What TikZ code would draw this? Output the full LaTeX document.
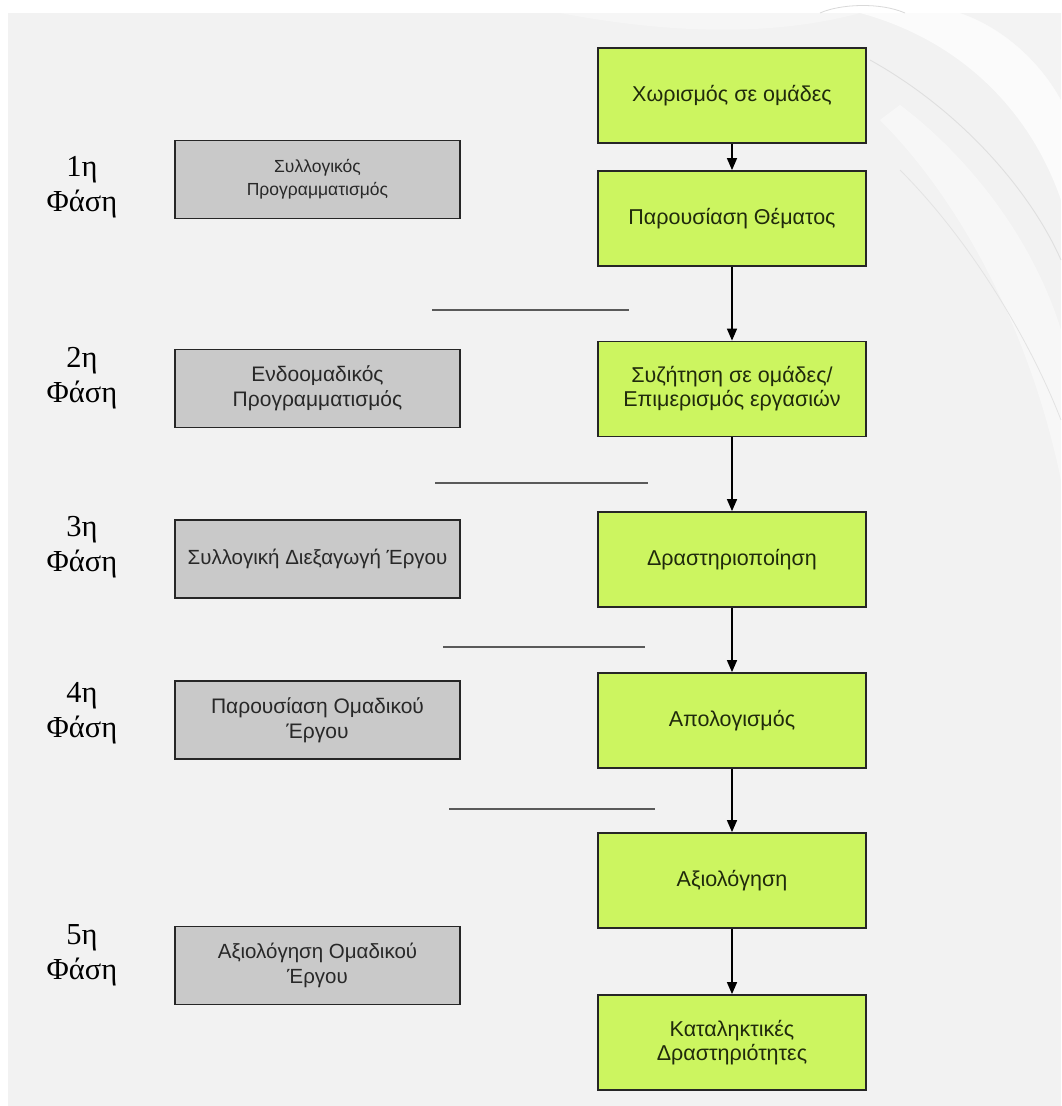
\documentclass[tikz,border=0pt]{standalone}
\usepackage{fontspec}
\setmainfont{Liberation Serif}
\setsansfont{Liberation Sans}
\usetikzlibrary{arrows.meta}

\definecolor{pagebg}{RGB}{242,242,242}
\definecolor{stepgreen}{RGB}{204,245,96}
\definecolor{stepgreentext}{RGB}{32,42,12}
\definecolor{phasegray}{RGB}{201,201,201}
\definecolor{phasetext}{RGB}{40,40,40}
\definecolor{rulegray}{RGB}{90,90,90}

\tikzset{
  stepbox/.style={draw=black!85, line width=1.8pt, fill=stepgreen,
    minimum width=268pt, minimum height=95pt, inner sep=2pt,
    align=center, text=stepgreentext,
    font=\sffamily\fontsize{21.5}{24}\selectfont},
  phasebox/.style={draw=black!85, line width=1.8pt, fill=phasegray,
    minimum width=285pt, minimum height=78pt, inner sep=2pt,
    align=center, text=phasetext,
    font=\sffamily\fontsize{21}{25}\selectfont},
  phaselabel/.style={align=center, text=black,
    font=\fontsize{30.5}{35}\selectfont},
  flow/.style={draw=black, line width=1.5pt,
    -{Triangle[width=10pt,length=12pt]}},
  separator/.style={draw=rulegray, line width=1.4pt},
}

\begin{document}
\begin{tikzpicture}[x=1pt,y=-1pt]
  \useasboundingbox (0,0) rectangle (1061,1106);

  % page background
  \fill[white] (0,0) rectangle (1061,1106);
  \fill[pagebg] (8,13) rectangle (1061,1106);

  % decorative light swooshes, upper right
  \fill[white, opacity=0.7]
    (860,13) .. controls (960,40) and (1030,110) .. (1061,200)
    -- (1061,13) -- cycle;
  \fill[pagebg!85!gray, opacity=0.3]
    (960,13) .. controls (1010,30) and (1045,70) .. (1061,100)
    -- (1061,13) -- cycle;
  \fill[white, opacity=0.45]
    (880,120) .. controls (960,200) and (1030,330) .. (1061,480)
    -- (1061,330) .. controls (1030,230) and (960,150) .. (900,105) -- cycle;
  \draw[gray!25, line width=0.9pt]
    (870,60) .. controls (960,110) and (1030,190) .. (1061,260);
  \draw[gray!22, line width=0.8pt]
    (900,170) .. controls (970,240) and (1030,340) .. (1061,420);
  \fill[white, opacity=0.35]
    (560,13) .. controls (650,30) and (760,40) .. (860,13) -- cycle;
  \draw[gray!30, line width=0.8pt]
    (820,13) .. controls (840,4) and (880,2) .. (905,13);

  % process steps
  \node[stepbox] (s1) at (732,95.5)  {Χωρισμός σε ομάδες};
  \node[stepbox] (s2) at (732,218.5) {Παρουσίαση Θέματος};
  \node[stepbox] (s3) at (732,389)   {Συζήτηση σε ομάδες/\\Επιμερισμός εργασιών};
  \node[stepbox] (s4) at (732,559.5) {Δραστηριοποίηση};
  \node[stepbox] (s5) at (732,720.5) {Απολογισμός};
  \node[stepbox] (s6) at (732,880.5) {Αξιολόγηση};
  \node[stepbox] (s7) at (732,1042.5) {Καταληκτικές\\Δραστηριότητες};

  \draw[flow] (s1) -- (s2);
  \draw[flow] (s2) -- (s3);
  \draw[flow] (s3) -- (s4);
  \draw[flow] (s4) -- (s5);
  \draw[flow] (s5) -- (s6);
  \draw[flow] (s6) -- (s7);

  % phases
  \node[phasebox, font=\sffamily\fontsize{17.5}{23}\selectfont] (p1) at (317.5,179.5)
    {Συλλογικός\\Προγραμματισμός};
  \node[phasebox] (p2) at (317.5,388.5) {Ενδοομαδικός\\Προγραμματισμός};
  \node[phasebox, font=\sffamily\fontsize{20.5}{25}\selectfont] (p3) at (317.5,559)
    {Συλλογική Διεξαγωγή Έργου};
  \node[phasebox] (p4) at (317.5,720) {Παρουσίαση Ομαδικού\\Έργου};
  \node[phasebox, font=\sffamily\fontsize{20.5}{25}\selectfont] (p5) at (317.5,965.5)
    {Αξιολόγηση Ομαδικού\\Έργου};

  \node[phaselabel] (l1) at (82,187) {1η\\Φάση};
  \node[phaselabel] (l2) at (82,378) {2η\\Φάση};
  \node[phaselabel] (l3) at (82,547) {3η\\Φάση};
  \node[phaselabel] (l4) at (82,713) {4η\\Φάση};
  \node[phaselabel] (l5) at (82,955) {5η\\Φάση};

  % phase separators
  \coordinate (r1a) at (432,310); \coordinate (r1b) at (629,310);
  \coordinate (r2a) at (435,483); \coordinate (r2b) at (648,483);
  \coordinate (r3a) at (443,647); \coordinate (r3b) at (645,647);
  \coordinate (r4a) at (449,809); \coordinate (r4b) at (655,809);
  \draw[separator] (r1a) -- (r1b);
  \draw[separator] (r2a) -- (r2b);
  \draw[separator] (r3a) -- (r3b);
  \draw[separator] (r4a) -- (r4b);
\end{tikzpicture}
\end{document}
